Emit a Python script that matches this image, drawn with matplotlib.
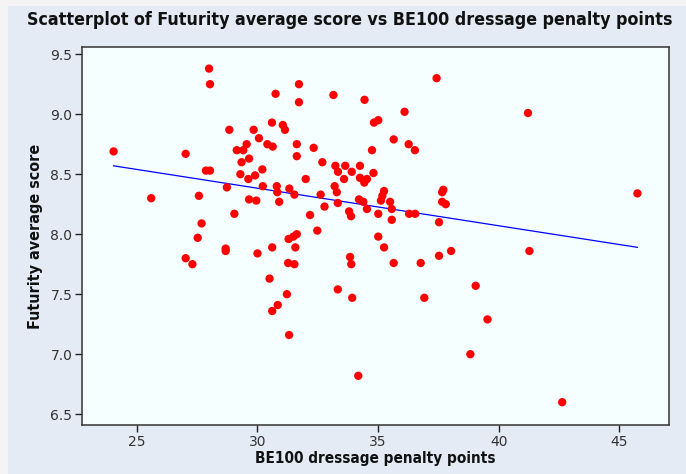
import numpy as np
import matplotlib
matplotlib.use('Agg')
import matplotlib.pyplot as plt
from matplotlib.patches import Rectangle

# BE100 dressage penalty points vs Futurity average score
penalty = [24.03, 25.59, 27.02, 27.02, 27.30, 27.99, 28.03, 27.86, 28.03, 27.57,
           28.73, 29.04, 27.68, 27.52, 28.83, 29.84, 30.06, 30.60, 30.75, 29.14,
           29.41, 29.55, 29.65, 29.34, 30.41, 30.63, 29.29, 29.62, 29.90, 30.20,
           30.22, 30.80, 30.82, 30.90, 29.65, 29.95, 28.68, 28.68, 30.00, 30.61,
           30.50, 30.61, 30.84, 31.72, 31.72, 33.15, 34.44, 36.10, 34.83, 35.01,
           31.05, 31.14, 31.63, 31.63, 32.33, 35.65, 34.75, 36.27, 36.53, 32.69,
           33.23, 33.34, 33.64, 34.25, 33.91, 34.81, 32.00, 33.59, 34.25, 34.43,
           34.54, 31.32, 31.53, 33.20, 33.29, 32.62, 32.78, 33.33, 34.21, 34.39,
           34.54, 35.25, 35.18, 35.12, 35.50, 35.57, 35.01, 35.57, 36.29, 36.54,
           33.80, 33.88, 32.18, 32.48, 31.49, 31.63, 31.29, 35.01, 37.43, 41.22,
           45.76, 37.71, 37.66, 37.66, 37.81, 37.53, 31.57, 31.27, 31.53, 31.22,
           31.31, 33.84, 33.89, 33.33, 33.93, 34.18, 35.25, 35.65, 36.77, 36.92,
           38.03, 37.53, 41.28, 39.05, 39.54, 38.83, 42.64]
score = [8.69, 8.30, 8.67, 7.80, 7.75, 9.38, 9.25, 8.53, 8.53, 8.32,
         8.39, 8.17, 8.09, 7.97, 8.87, 8.87, 8.80, 8.93, 9.17, 8.70,
         8.70, 8.75, 8.63, 8.60, 8.75, 8.73, 8.50, 8.46, 8.49, 8.54,
         8.40, 8.40, 8.35, 8.27, 8.29, 8.28, 7.88, 7.86, 7.84, 7.89,
         7.63, 7.36, 7.41, 9.25, 9.10, 9.16, 9.12, 9.02, 8.93, 8.95,
         8.91, 8.87, 8.75, 8.65, 8.72, 8.79, 8.70, 8.75, 8.70, 8.60,
         8.57, 8.52, 8.57, 8.57, 8.52, 8.51, 8.46, 8.46, 8.47, 8.43,
         8.46, 8.38, 8.33, 8.40, 8.35, 8.33, 8.23, 8.26, 8.29, 8.27,
         8.21, 8.36, 8.32, 8.28, 8.27, 8.21, 8.17, 8.12, 8.17, 8.17,
         8.19, 8.15, 8.16, 8.03, 7.98, 8.00, 7.96, 7.98, 9.30, 9.01,
         8.34, 8.37, 8.35, 8.27, 8.25, 8.10, 7.89, 7.76, 7.75, 7.50,
         7.16, 7.81, 7.75, 7.54, 7.47, 6.82, 7.89, 7.76, 7.76, 7.47,
         7.86, 7.82, 7.86, 7.57, 7.29, 7.00, 6.60]

# fitted line as shown
fit_intercept = 9.321
fit_slope = -0.03126

xticks = [25, 30, 35, 40, 45]
yticks = [6.5, 7.0, 7.5, 8.0, 8.5, 9.0, 9.5]

plt.rcParams['font.family'] = 'DejaVu Sans'

fig = plt.figure(figsize=(6.86, 4.74), dpi=100)
fig.patch.set_facecolor('#F4F4F4')
fig.patches.append(Rectangle((8 / 686, 0), 1, (474 - 6) / 474, transform=fig.transFigure,
                             facecolor='#E4EBF5', edgecolor='none', zorder=-5))

ax = fig.add_axes([82 / 686, 49 / 474, (669 - 82) / 686, (427 - 49) / 474])
ax.set_zorder(2)
ax.set_facecolor('#F5FFFF')

ax.scatter(penalty, score, s=36, color='#FF0000', edgecolors='none', zorder=3)
xs = np.array([min(penalty), max(penalty)])
ax.plot(xs, fit_intercept + fit_slope * xs, color='#0000FF', lw=0.9, zorder=2)

ax.set_xlim(22.72, 47.07)
ax.set_ylim(6.41, 9.56)
ax.set_xticks(xticks)
ax.set_yticks(yticks)
ax.set_yticklabels(['%.1f' % v for v in yticks])
ax.tick_params(direction='out', length=5, width=1, labelsize=10, colors='#222222',
               labelcolor='#333333', pad=2)
for sp in ax.spines.values():
    sp.set_color('#333333')
    sp.set_linewidth(1.1)

ax.set_xlabel('BE100 dressage penalty points', fontsize=11, fontweight='bold',
              fontstretch='condensed', color='#111111', labelpad=2)
ax.set_ylabel('Futurity average score', fontsize=11.5, fontweight='bold',
              fontstretch='condensed', color='#111111', labelpad=5)
fig.text(350 / 686, 1 - 20 / 474, 'Scatterplot of Futurity average score vs BE100 dressage penalty points',
         ha='center', va='center', fontsize=12.8, fontweight='bold',
         fontstretch='condensed', color='#111111')

fig.savefig('out.png', dpi=100, facecolor=fig.get_facecolor())
